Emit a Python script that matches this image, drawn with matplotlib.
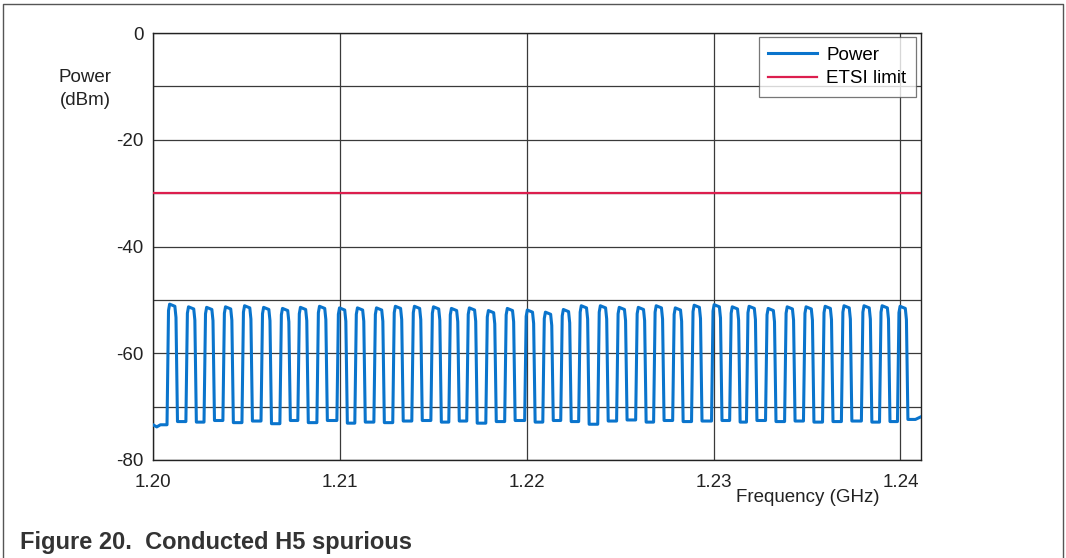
import matplotlib
matplotlib.use('Agg')
from matplotlib import pyplot as plt
import numpy as np

plt.rcParams['font.family'] = ['Liberation Sans', 'DejaVu Sans']
plt.rcParams['axes.unicode_minus'] = False

# spurious bursts: start frequency (GHz) of each burst, its peak level and the floor between bursts (dBm)
pulse_start = [1.20075, 1.20176, 1.20273, 1.20374, 1.20476, 1.20578, 1.20679, 1.20775,
               1.20877, 1.20984, 1.21080, 1.21182, 1.21283, 1.21385, 1.21487, 1.21583,
               1.21679, 1.21781, 1.21882, 1.21989, 1.22086, 1.22182, 1.22278, 1.22380,
               1.22481, 1.22583, 1.22679, 1.22781, 1.22882, 1.22989, 1.23086, 1.23176,
               1.23278, 1.23380, 1.23481, 1.23583, 1.23684, 1.23791, 1.23888, 1.23984]
pulse_peak = [-50.8, -51.3, -51.4, -51.3, -51.1, -51.4, -51.6, -51.4, -51.2, -51.5,
              -51.5, -51.5, -51.2, -51.2, -51.3, -51.6, -51.5, -52.0, -51.6, -51.9,
              -52.3, -51.8, -51.1, -51.1, -51.4, -51.4, -51.1, -51.5, -51.0, -50.9,
              -51.3, -51.2, -51.6, -51.3, -51.3, -51.2, -51.1, -51.1, -51.1, -51.2]
gap_floor = [-73.4, -72.8, -72.9, -72.6, -73.0, -72.7, -73.2, -72.6, -73.0, -72.6, -73.1,
             -72.9, -73.0, -72.7, -72.6, -72.9, -72.7, -73.1, -72.8, -72.6, -72.9,
             -72.6, -72.8, -73.3, -72.7, -72.5, -72.9, -72.6, -72.8, -72.7, -72.6,
             -72.9, -72.6, -72.8, -72.7, -72.9, -72.8, -72.7, -72.9, -72.8, -72.4]
pulse_width = 0.00056
f_start, f_stop = 1.20, 1.2411
trace_tail = -71.9
etsi_limit = -30

y_ticks = [0, -20, -40, -60, -80]
x_ticks = [1.20, 1.21, 1.22, 1.23, 1.24]

# build the step trace of the bursts
fx, py = [f_start, f_start + 0.0002, f_start + 0.0004], [gap_floor[0], -73.8, gap_floor[0]]
for i, (s, p) in enumerate(zip(pulse_start, pulse_peak)):
    fx += [s, s + 0.00008, s + 0.00014, s + pulse_width - 0.00014,
           s + pulse_width - 0.00008, s + pulse_width]
    py += [gap_floor[i], p - 1.2, p, p - 0.4, p - 2.5, gap_floor[i + 1]]
fx += [f_stop - 0.0003, f_stop]
py += [gap_floor[-1], trace_tail]

fig = plt.figure(figsize=(10.66, 5.58), dpi=100)
ax = fig.add_axes([153/1066, 1-460/558, 768/1066, 427/558])

ax.plot(fx, py, color='#0a74cc', linewidth=2.2, solid_joinstyle='round', label='Power', zorder=3)
ax.axhline(etsi_limit, color='#dc1e4e', linewidth=1.6, label='ETSI limit', zorder=3)

ax.set_xlim(f_start, f_stop)
ax.set_ylim(-80, 0)
ax.set_xticks(x_ticks)
ax.set_xticklabels([f'{v:.2f}' for v in x_ticks])
ax.set_yticks(y_ticks)
ax.set_yticks(np.arange(-70, 0, 20), minor=True)
ax.tick_params(which='both', length=0, labelsize=13.5, colors='#222222')
ax.tick_params(axis='x', pad=10)
ax.tick_params(axis='y', pad=7)
ax.grid(which='both', color='#3a3a3a', linewidth=0.9)
ax.set_axisbelow(True)
for s in ax.spines.values():
    s.set_color('#222222')
    s.set_linewidth(1.0)

fig.text(85/1066, 1-89/558, 'Power\n(dBm)', ha='center', va='center', fontsize=13.5,
         color='#222222', linespacing=1.5)
fig.text(808/1066, 1-498/558, 'Frequency (GHz)', ha='center', va='center', fontsize=13.5,
         color='#222222')
fig.text(20/1066, 1-542/558, 'Figure 20.  Conducted H5 spurious', ha='left', va='center',
         fontsize=17, fontweight='bold', color='#333333')

leg = ax.legend(loc='upper right', bbox_to_anchor=(1 - 5/768, 1 - 4/427), borderaxespad=0.0,
                fontsize=13.5, frameon=True, fancybox=False, edgecolor='#555555',
                handlelength=2.6, borderpad=0.5, labelspacing=0.35, handletextpad=0.5)
leg.get_frame().set_linewidth(0.9)

# outer frame
fig.add_artist(plt.Line2D([3/1066, 3/1066, 1063/1066, 1063/1066], [0, 1-4/558, 1-4/558, 0],
                          transform=fig.transFigure, color='#555555', linewidth=1.0))

fig.savefig('out.png', dpi=100)
